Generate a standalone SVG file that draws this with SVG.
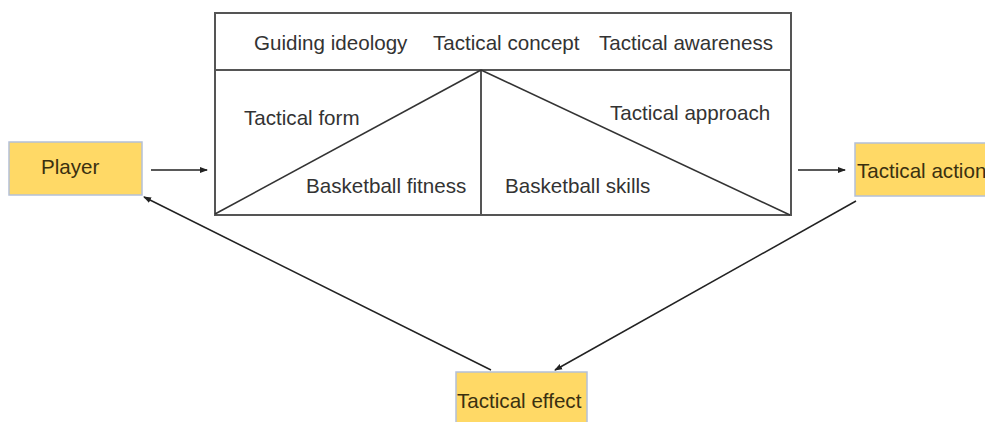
<svg xmlns="http://www.w3.org/2000/svg" width="985" height="422" viewBox="0 0 985 422">
<defs>
<marker id="ah" markerWidth="8" markerHeight="8" refX="7" refY="4" orient="auto" markerUnits="userSpaceOnUse">
<path d="M0,1 L8,4 L0,7 Z" fill="#222"/>
</marker>
<style>
.t{font-family:"Liberation Sans",Arial,sans-serif;font-size:20.6px;fill:#333}
.tb{font-family:"Liberation Sans",Arial,sans-serif;font-size:20.6px;fill:#3a3010}
.frame{fill:none;stroke:#555;stroke-width:2}
.ln{fill:none;stroke:#333;stroke-width:1.6}
.box{fill:#FFD966;stroke:#B4C0D8;stroke-width:1.5}
.arr{fill:none;stroke:#222;stroke-width:1.5;marker-end:url(#ah)}
</style>
</defs>
<rect width="985" height="422" fill="#fff"/>
<g id="framework">
<rect class="frame" x="215" y="13" width="576" height="202"/>
<line class="frame" x1="215" y1="70" x2="791" y2="70"/>
<line class="frame" x1="481" y1="70" x2="481" y2="215"/>
<line class="ln" x1="215" y1="214" x2="481" y2="70"/>
<line class="ln" x1="481" y1="70" x2="790" y2="215"/>
<text class="t" x="254" y="50">Guiding ideology</text>
<text class="t" x="433" y="50">Tactical concept</text>
<text class="t" x="599" y="50">Tactical awareness</text>
<text class="t" x="244" y="125">Tactical form</text>
<text class="t" x="610" y="120">Tactical approach</text>
<text class="t" x="306" y="193">Basketball fitness</text>
<text class="t" x="505" y="193">Basketball skills</text>
</g>
<g id="player">
<rect class="box" x="9" y="142" width="133" height="53"/>
<text class="tb" x="41" y="174">Player</text>
</g>
<g id="action">
<rect class="box" x="855" y="143" width="135" height="53"/>
<text class="tb" x="857" y="178">Tactical action</text>
</g>
<g id="effect">
<rect class="box" x="456" y="372" width="131" height="55"/>
<text class="tb" x="457" y="408">Tactical effect</text>
</g>
<g id="connectors">
<line class="arr" x1="151" y1="170" x2="207" y2="170"/>
<line class="arr" x1="798" y1="170" x2="845" y2="170"/>
<line class="arr" x1="856" y1="201" x2="555" y2="370"/>
<line class="arr" x1="491" y1="370" x2="144" y2="197"/>
</g>
</svg>
